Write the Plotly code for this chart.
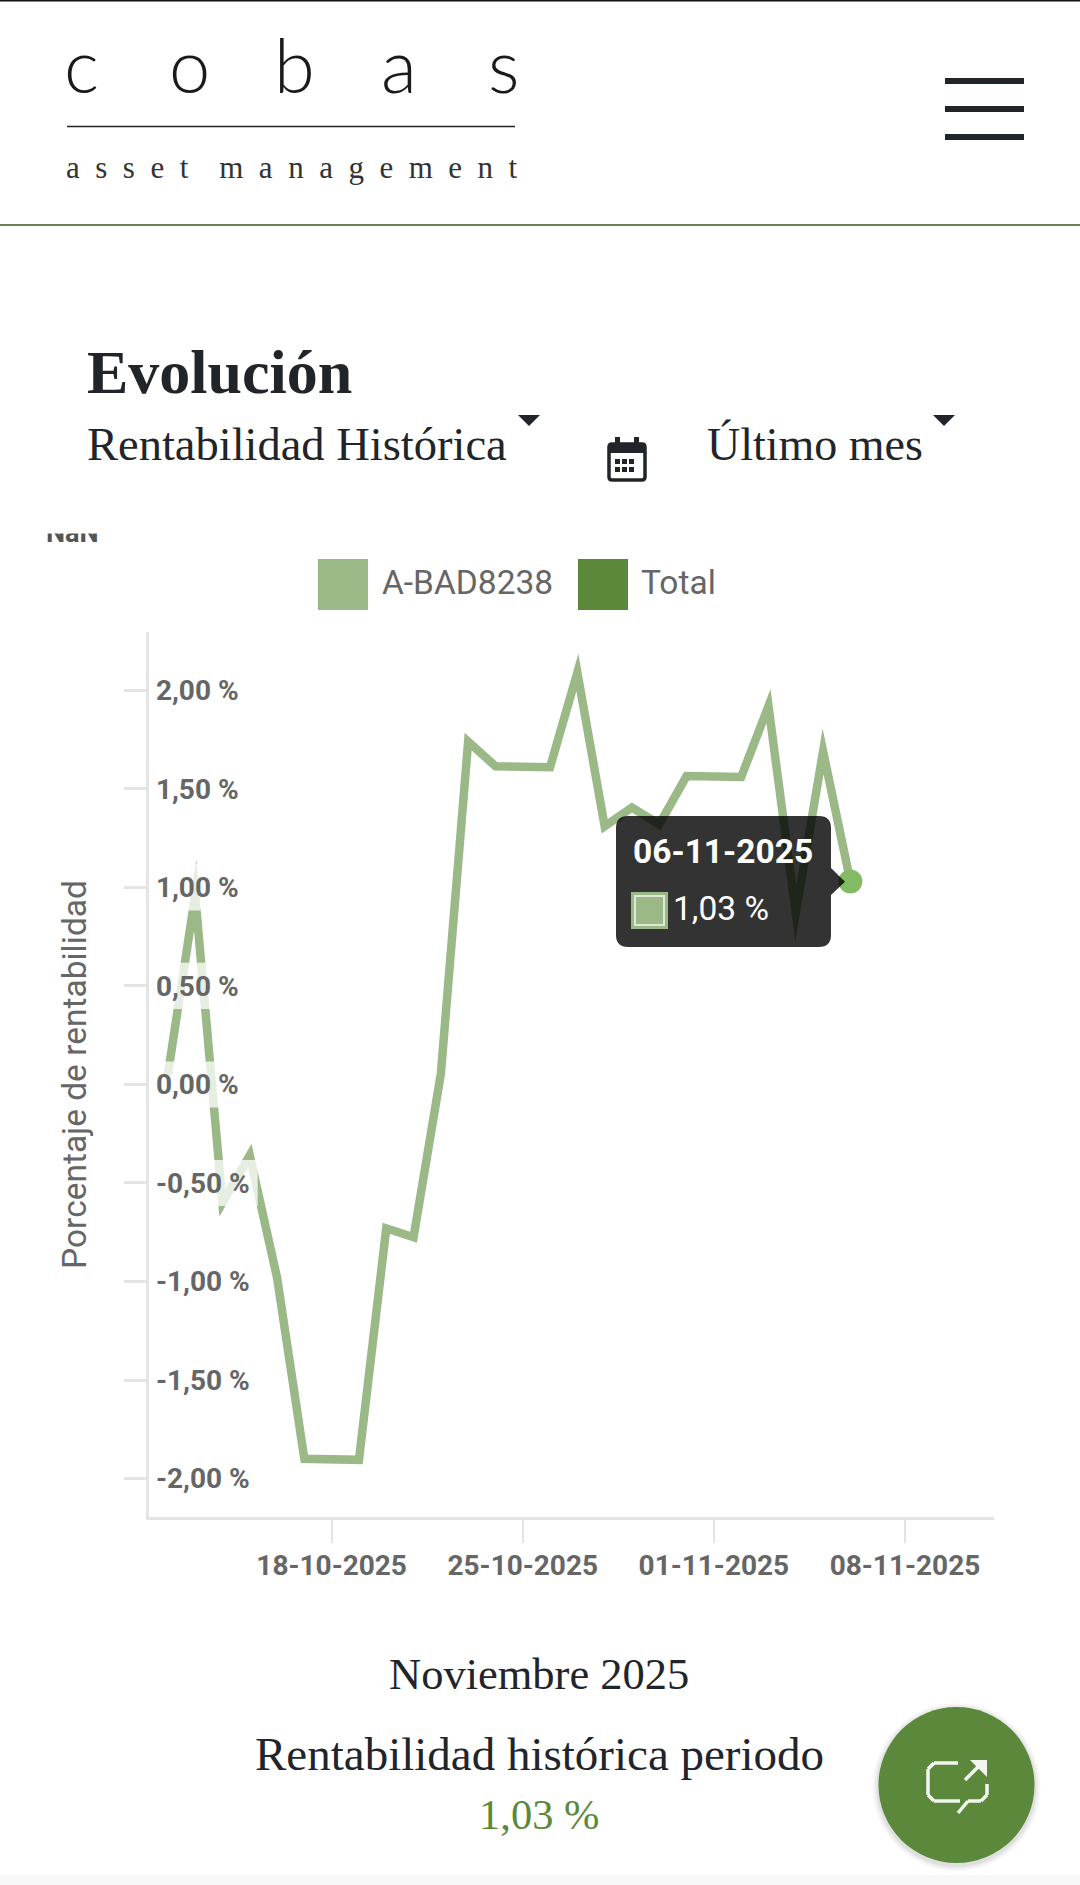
import plotly.graph_objects as go

W, H = 1080, 1885

dates = ["2025-10-12","2025-10-13","2025-10-14","2025-10-15","2025-10-16","2025-10-17","2025-10-19",
         "2025-10-20","2025-10-21","2025-10-22","2025-10-23","2025-10-24","2025-10-26","2025-10-27",
         "2025-10-28","2025-10-29","2025-10-30","2025-10-31","2025-11-02","2025-11-03","2025-11-04",
         "2025-11-05","2025-11-06"]
values = [0.05,0.96,-0.60,-0.36,-0.98,-1.90,-1.905,-0.73,-0.775,0.055,1.74,1.615,1.61,2.09,1.31,1.405,
          1.32,1.565,1.56,1.92,0.87,1.69,1.03]
series_name = "A-BAD8238"
total_name = "Total"
y_ticks = [2.0,1.5,1.0,0.5,0.0,-0.5,-1.0,-1.5,-2.0]
y_labels = ["2,00 %","1,50 %","1,00 %","0,50 %","0,00 %","-0,50 %","-1,00 %","-1,50 %","-2,00 %"]
x_ticks = ["2025-10-18","2025-10-25","2025-11-01","2025-11-08"]
x_labels = ["18-10-2025","25-10-2025","01-11-2025","08-11-2025"]

LINE = "#9ab987"; DARK = "#212529"; GREEN = "#5b883b"; AXIS = "#e4e4e4"; GREY = "#666666"
SLAB = "Liberation Serif"; SANS = "Roboto"

def px(x): return x / W
def py(y): return 1 - y / H

fig = go.Figure()
fig.add_trace(go.Scatter(x=dates, y=values, mode="lines", name=series_name,
                         line=dict(color=LINE, width=8.5), hoverinfo="skip", showlegend=False))
# translucent label backdrops over the line
bx, by = [], []
for t in y_ticks:
    bx += ["2025-10-11 07:00", "2025-10-15 07:00", "2025-10-15 07:00", "2025-10-11 07:00", "2025-10-11 07:00", None]
    by += [t-0.117, t-0.117, t+0.117, t+0.117, t-0.117, None]
fig.add_trace(go.Scatter(x=bx, y=by, mode="none", fill="toself", fillcolor="rgba(255,255,255,0.75)",
                         hoverinfo="skip", showlegend=False))
fig.add_trace(go.Scatter(x=dates[-1:], y=values[-1:], mode="markers", marker=dict(color="#83bb65", size=24),
                         hoverinfo="skip", showlegend=False))

shapes, ann = [], []

def rect(x0, y0, x1, y1, fill, line=None, lw=0):
    shapes.append(dict(type="rect", xref="paper", yref="paper", x0=px(x0), x1=px(x1), y0=py(y0), y1=py(y1),
                       fillcolor=fill, line=dict(color=line or fill, width=lw)))
def seg(x0, y0, x1, y1, color, lw):
    shapes.append(dict(type="line", xref="paper", yref="paper", x0=px(x0), x1=px(x1), y0=py(y0), y1=py(y1),
                       line=dict(color=color, width=lw)))
def poly(pts, fill):
    d = "M" + " L".join(f"{px(a):.5f},{py(b):.5f}" for a, b in pts) + " Z"
    shapes.append(dict(type="path", xref="paper", yref="paper", path=d, fillcolor=fill, line=dict(width=0)))
def circ(cx, cy, r, fill):
    shapes.append(dict(type="circle", xref="paper", yref="paper", x0=px(cx-r), x1=px(cx+r), y0=py(cy+r), y1=py(cy-r),
                       fillcolor=fill, line=dict(width=0)))
def text(x, base, s, size, color=DARK, family=SLAB, weight=400, anchor="left"):
    ann.append(dict(xref="paper", yref="paper", x=px(x), y=py(base-0.34*size), text=s, showarrow=False,
                    xanchor=anchor, yanchor="middle", borderpad=0,
                    font=dict(size=size, color=color, family=family, weight=weight)))

def rrect_path(x0, y0, x1, y1, r, arrow=None):
    p = lambda a, b: f"{px(a):.5f},{py(b):.5f}"
    d = f"M{p(x0+r,y0)} L{p(x1-r,y0)} Q{p(x1,y0)} {p(x1,y0+r)} "
    if arrow:
        d += f"L{p(x1,arrow[0])} L{p(arrow[1],arrow[2])} L{p(x1,arrow[3])} "
    d += f"L{p(x1,y1-r)} Q{p(x1,y1)} {p(x1-r,y1)} L{p(x0+r,y1)} Q{p(x0,y1)} {p(x0,y1-r)} L{p(x0,y0+r)} Q{p(x0,y0)} {p(x0+r,y0)} Z"
    return d

# header
rect(0, 0, W, 1.5, "#111111")
for x, ch in zip([81, 189, 294, 399, 503], "cobas"):
    text(x, 90, ch, 74, "#1a1a1a", "Lato", 300, "center")
seg(67, 126.5, 515, 126.5, "#222222", 1.6)
text(65, 178, "a\u2002s\u2002s\u2002e\u2002t\u2002\u2002m\u2002a\u2002n\u2002a\u2002g\u2002e\u2002m\u2002e\u2002n\u2002t", 31, "#333333")
for y in (81, 109, 137):
    seg(945, y, 1024, y, DARK, 6)
seg(0, 225, W, 225, "#6a8055", 2)

# controls
text(86, 393.5, "Evolución", 62, DARK, SLAB, 700)
text(86, 460, "Rentabilidad Histórica", 46.5)
text(706, 460, "Último mes", 46)
poly([(518, 415), (540, 415), (529, 426)], DARK)
poly([(933, 415), (955, 415), (944, 426)], DARK)
# calendar icon
shapes.append(dict(type="path", xref="paper", yref="paper", path=rrect_path(609, 444, 645, 480, 3),
                   fillcolor="rgba(0,0,0,0)", line=dict(color=DARK, width=3.5)))
rect(609, 444, 645, 453, DARK)
rect(615, 437, 620, 446, DARK)
rect(634, 437, 639, 446, DARK)
for cy in (459, 467):
    for cx in (615, 622, 629):
        rect(cx, cy, cx+5, cy+5, DARK)

# clipped label at the top of the chart
text(45, 542, "NaN", 27, "#555555", SANS, 700)
ann.append(dict(xref="paper", yref="paper", x=px(35), y=py(534), text="\u00a0", showarrow=False, xanchor="left",
                yanchor="bottom", width=80, height=32, bgcolor="white", borderpad=0, font=dict(size=12)))

# legend
rect(318, 559, 368, 610, LINE)
rect(578, 559, 628, 610, GREEN)
text(381, 594, series_name, 33.5, GREY, SANS)
text(640, 594, total_name, 33.5, GREY, SANS)

# tooltip
shapes.append(dict(type="path", xref="paper", yref="paper", fillcolor="rgba(0,0,0,0.8)", line=dict(width=0),
                   path=rrect_path(616, 816, 831, 947, 12, arrow=(868, 845, 881.7, 895))))
text(632, 863, "06-11-2025", 33.5, "#ffffff", SANS, 700)
rect(631, 892, 668, 929, LINE)
rect(635, 896, 664, 925, LINE, "#dfe8d8", 2)
text(672, 920, "1,03 %", 33.5, "#ffffff", SANS, 400)

# footer
text(539, 1689.5, "Noviembre 2025", 44.5, DARK, SLAB, 400, "center")
text(539, 1770, "Rentabilidad histórica periodo", 47, DARK, SLAB, 400, "center")
text(539, 1829, "1,03 %", 42.5, GREEN, SLAB, 400, "center")
rect(0, 1875, W, H, "#f8f8f8")
for r, a in ((84, 0.03), (82, 0.04), (80, 0.06)):
    circ(956.5, 1787, r, f"rgba(0,0,0,{a})")
circ(956.5, 1785, 78, GREEN)
# share icon
WHITE = "#f3f6f0"
icon = [(958, 1763, 934, 1763), (934, 1763, 928, 1769), (928, 1769, 928, 1795), (928, 1795, 934, 1801),
        (934, 1801, 960, 1801), (968, 1801, 981, 1801), (981, 1801, 987, 1795), (987, 1795, 987, 1784),
        (968, 1801, 958, 1813), (965, 1780, 984, 1761)]
for a, b, c, d in icon:
    seg(a, b, c, d, WHITE, 3.5)
poly([(970, 1760), (987, 1760), (987, 1777)], WHITE)

fig.update_layout(
    width=W, height=H, autosize=False, margin=dict(l=0, r=0, t=0, b=0),
    paper_bgcolor="white", plot_bgcolor="white", showlegend=False,
    shapes=shapes, annotations=ann,
    xaxis=dict(domain=[148.5/W, 994/W], type="date", range=["2025-10-11 07:00", "2025-11-11 06:15"],
               tickmode="array", tickvals=x_ticks, ticktext=x_labels, ticks="outside", ticklen=23,
               tickwidth=2, tickcolor=AXIS, showline=True, linecolor=AXIS, linewidth=3, showgrid=False,
               zeroline=False, ticklabelstandoff=-2, tickfont=dict(family=SANS, size=28, color=GREY, weight=700)),
    yaxis=dict(domain=[1-1517/H, 1-632/H], range=[-2.195, 2.296],
               tickmode="array", tickvals=y_ticks, ticktext=y_labels, ticks="outside", ticklen=22,
               tickwidth=3, tickcolor=AXIS, showline=True, linecolor=AXIS, linewidth=3, showgrid=False,
               zeroline=False, ticklabelposition="inside", ticklabelstandoff=10,
               tickfont=dict(family=SANS, size=28, color=GREY, weight=700),
               title=dict(text="Porcentaje de rentabilidad", standoff=60,
                          font=dict(family=SANS, size=33.5, color=GREY))),
)

post = """
document.body.style.margin='0';document.documentElement.style.overflow='hidden';
document.querySelectorAll('.js-line').forEach(function(e){e.style.strokeMiterlimit=12;e.style.strokeLinejoin='miter';});
"""
fig.write_html("out.html", post_script=post, config=dict(displayModeBar=False))
